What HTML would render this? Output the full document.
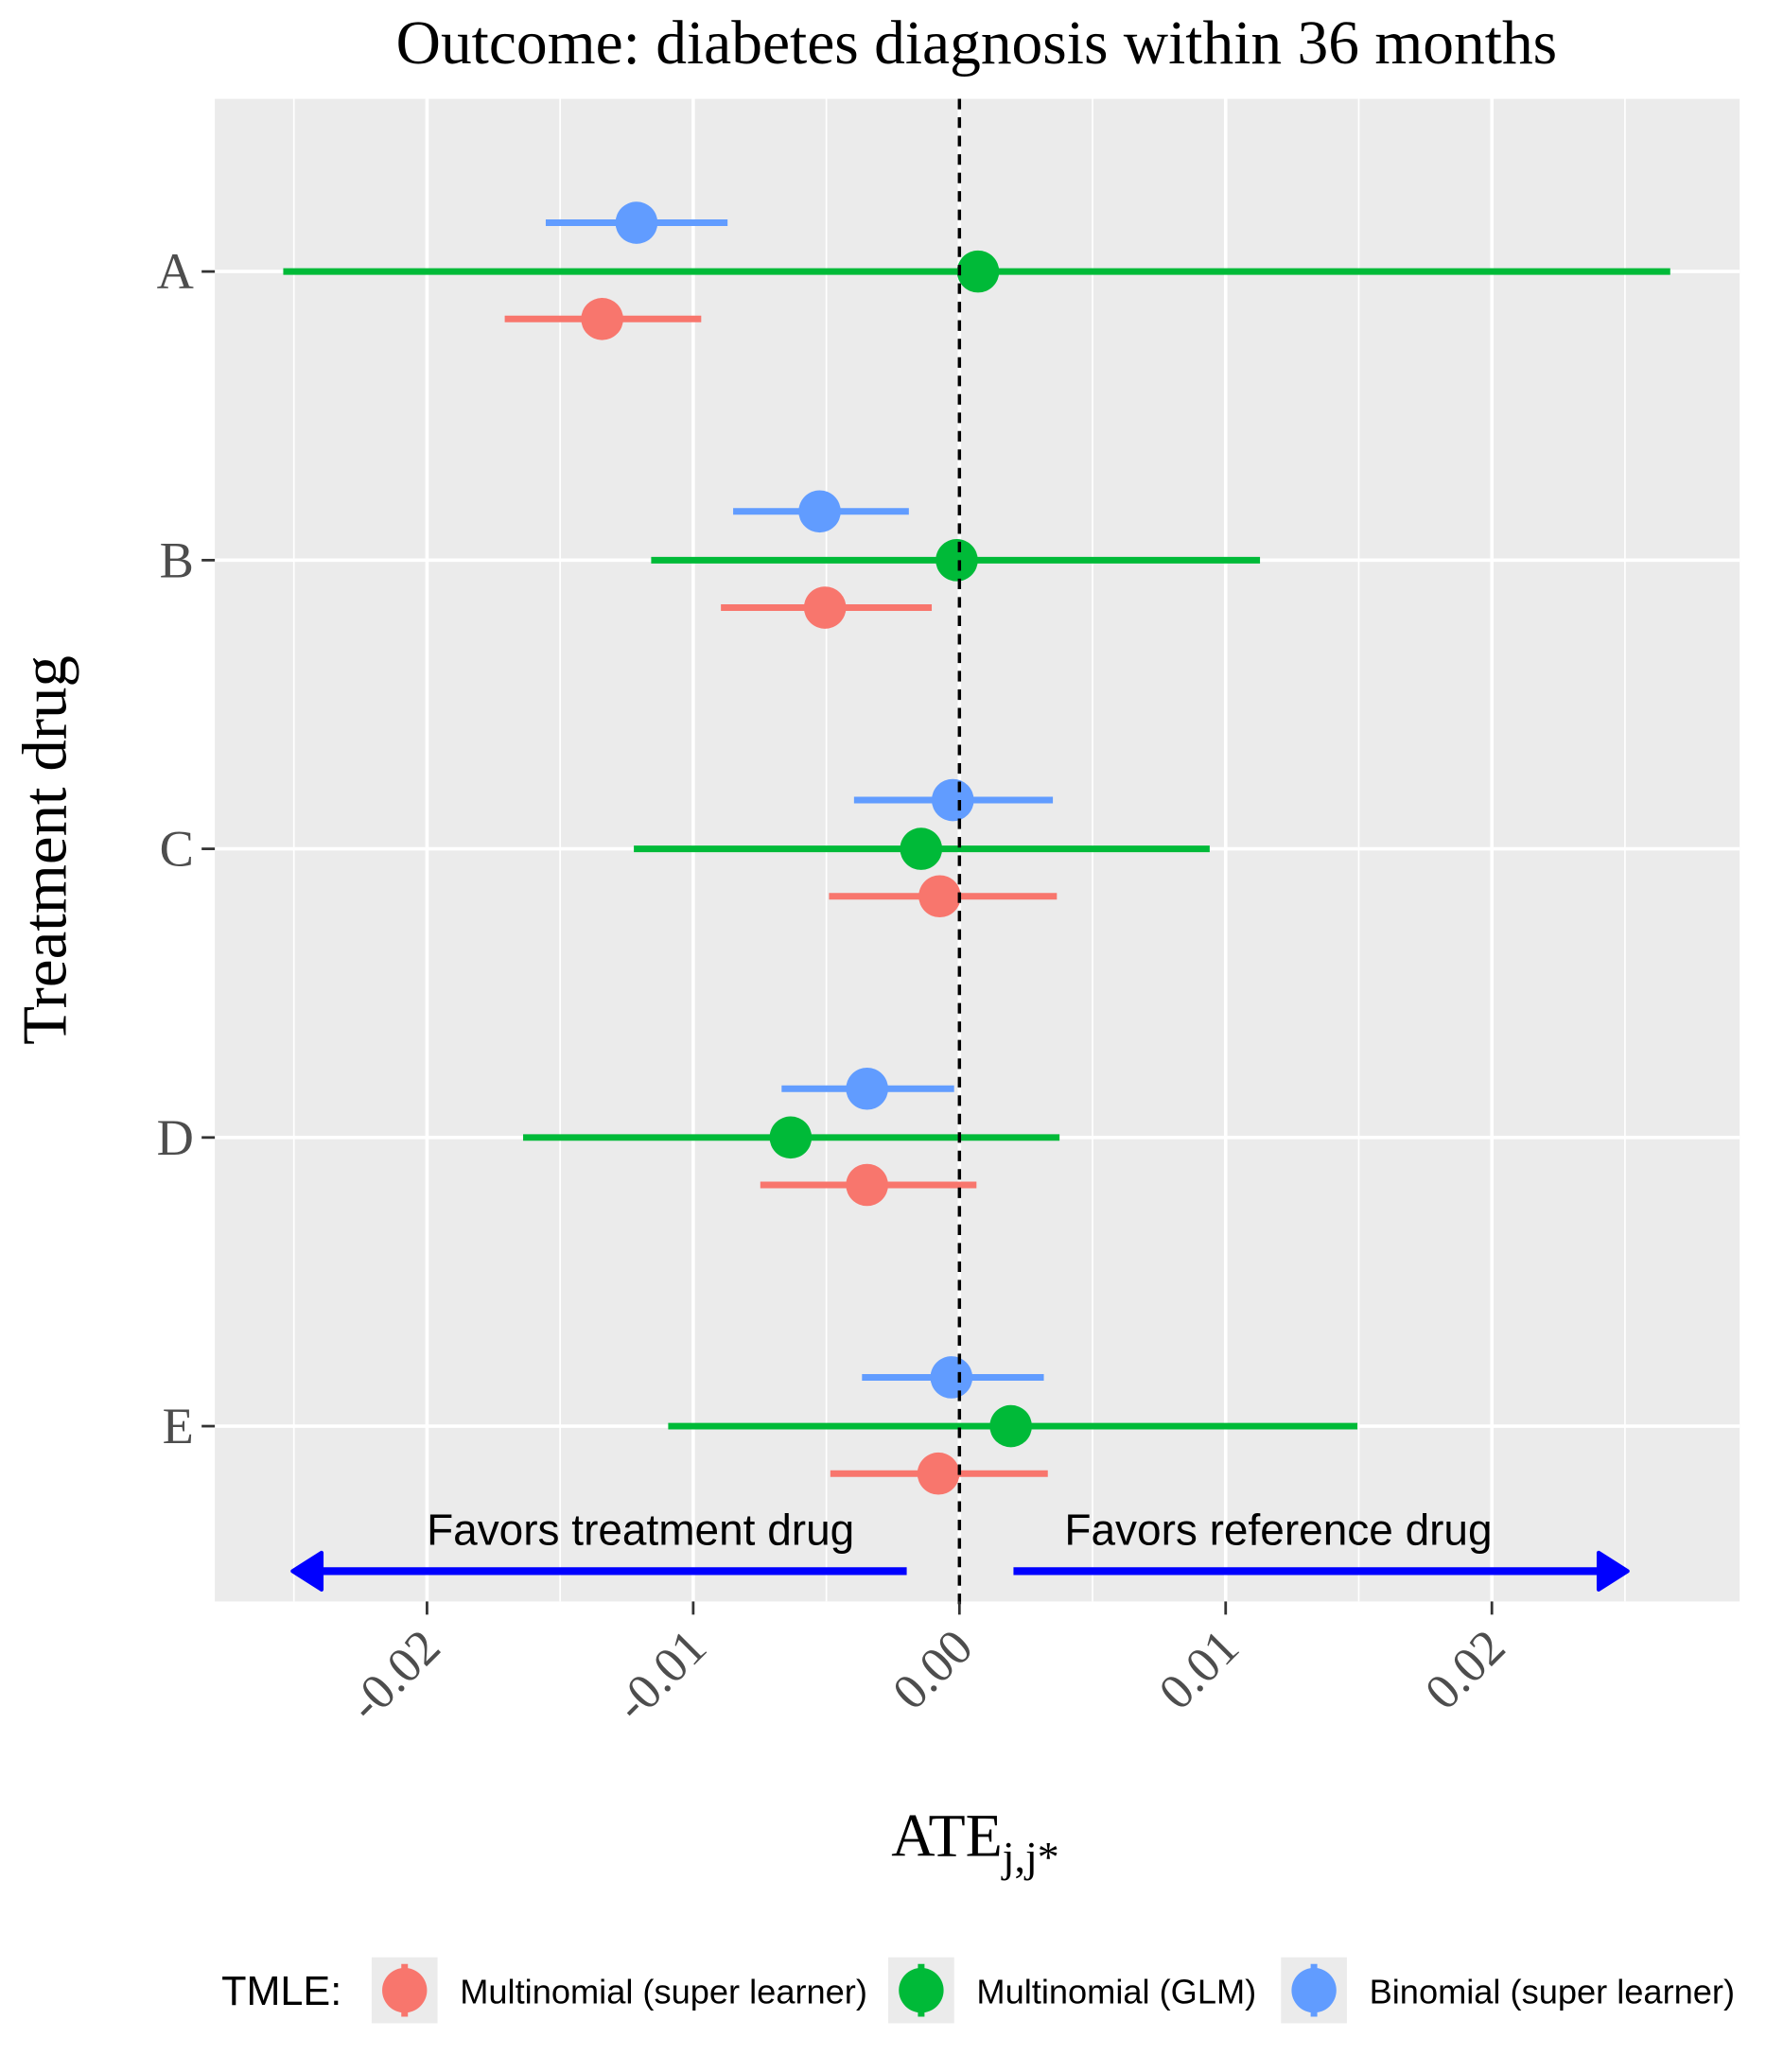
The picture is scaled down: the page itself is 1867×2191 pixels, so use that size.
<!DOCTYPE html>
<html><head><meta charset="utf-8"><style>
html,body{margin:0;padding:0;background:#fff}
svg{display:block}
.serif{font-family:"Liberation Serif",serif}
.sans{font-family:"Liberation Sans",sans-serif}
</style></head><body>
<svg id="chart" width="1867" height="2191" viewBox="0 0 1340 1572" preserveAspectRatio="none" xmlns="http://www.w3.org/2000/svg">
<rect width="1340" height="1572" fill="#fff"/>
<text class="serif" x="741" y="48" font-size="47" text-anchor="middle" fill="#000">Outcome: diabetes diagnosis within 36 months</text>
<rect x="163" y="75" width="1157" height="1140" fill="#ebebeb"/>
<g id="grid"></g>
<g id="marks"></g>
<line x1="728" y1="75" x2="728" y2="1222" stroke="#000" stroke-width="2.5" stroke-dasharray="8,6"/>
<g>
<text class="sans" x="486" y="1172" font-size="33" text-anchor="middle" fill="#000">Favors treatment drug</text>
<text class="sans" x="970" y="1172" font-size="33" text-anchor="middle" fill="#000">Favors reference drug</text>
<line x1="688" y1="1192" x2="238" y2="1192" stroke="#0000ff" stroke-width="6"/>
<polygon points="222,1192 244,1178 244,1206" fill="#0000ff" stroke="#0000ff" stroke-width="3" stroke-linejoin="round"/>
<line x1="769" y1="1192" x2="1219" y2="1192" stroke="#0000ff" stroke-width="6"/>
<polygon points="1235,1192 1213,1178 1213,1206" fill="#0000ff" stroke="#0000ff" stroke-width="3" stroke-linejoin="round"/>
</g>
<g id="axes"></g>
<text class="serif" x="740" y="1408" font-size="46" text-anchor="middle" fill="#000">ATE<tspan font-size="33" dy="12">j,j*</tspan></text>
<text class="serif" font-size="48" text-anchor="middle" fill="#000" transform="translate(50,645) rotate(-90)">Treatment drug</text>
<g>
<text class="sans" x="168" y="1521" font-size="31" fill="#000">TMLE:</text>
<g id="legend-keys"></g>
</g>
</svg>
<script>
const categories = ["A","B","C","D","E"];
const seriesNames = ["Multinomial (super learner)","Multinomial (GLM)","Binomial (super learner)"];
const redEst  = [-0.01342,-0.00505,-0.00074,-0.00347,-0.00079];
const redLo   = [-0.01708,-0.00896,-0.00490,-0.00748,-0.00485];
const redHi   = [-0.00970,-0.00104, 0.00366, 0.00064, 0.00332];
const greenEst= [ 0.00070,-0.00010,-0.00144,-0.00634, 0.00193];
const greenLo = [-0.02540,-0.01158,-0.01223,-0.01639,-0.01094];
const greenHi = [ 0.02670, 0.01129, 0.00940, 0.00376, 0.01495];
const blueEst = [-0.01213,-0.00525,-0.00025,-0.00347,-0.00030];
const blueLo  = [-0.01554,-0.00850,-0.00396,-0.00668,-0.00366];
const blueHi  = [-0.00871,-0.00190, 0.00351,-0.00020, 0.00317];
const xTicks = [-0.02,-0.01,0.00,0.01,0.02];
const xTickLabels = ["-0.02","-0.01","0.00","0.01","0.02"];

const NS="http://www.w3.org/2000/svg";
const X0=728, XPX=20200;
function xs(v){return X0+v*XPX;}
function ys(i){return 206+i*219;}
function mk(tag,attrs,parent){const e=document.createElementNS(NS,tag);for(const k in attrs)e.setAttribute(k,attrs[k]);parent.appendChild(e);return e;}

const grid=document.getElementById('grid');
for(let v=-0.025;v<=0.0301;v+=0.005){
  const x=xs(v); if(x<163||x>1320)continue;
  const major=Math.abs(Math.round(v*200))%2===0;
  const l=mk('line',{x1:x,y1:75,x2:x,y2:1215,stroke:'#fff','stroke-width':major?2.6:1.2},grid);
  
  
}
categories.forEach((c,i)=>{
  const l=mk('line',{x1:163,y1:ys(i),x2:1320,y2:ys(i),stroke:'#fff','stroke-width':2.6},grid);
  
  
});

const marks=document.getElementById('marks');
const series=[
  {est:blueEst,lo:blueLo,hi:blueHi,color:'#619CFF',off:-37,key:'binomial-sl'},
  {est:greenEst,lo:greenLo,hi:greenHi,color:'#00BA38',off:0,key:'multinomial-glm'},
  {est:redEst,lo:redLo,hi:redHi,color:'#F8766D',off:36,key:'multinomial-sl'}
];
series.forEach(s=>{
  categories.forEach((c,i)=>{
    const y=ys(i)+s.off;
    const l=mk('line',{x1:xs(s.lo[i]),y1:y,x2:xs(s.hi[i]),y2:y,stroke:s.color,'stroke-width':5},marks);
    
    
    const p=mk('circle',{cx:xs(s.est[i]),cy:y,r:16,fill:s.color},marks);
    
    
  });
});

const axes=document.getElementById('axes');
categories.forEach((c,i)=>{
  const t=mk('line',{x1:153,y1:ys(i),x2:163,y2:ys(i),stroke:'#333','stroke-width':2},axes);
  
  
  const tx=mk('text',{x:147,y:ys(i)+13,'font-size':39,'text-anchor':'end',fill:'#4d4d4d',class:'serif'},axes);
  tx.textContent=c;
  
  
});
xTicks.forEach((v,i)=>{
  const x=xs(v);
  const t=mk('line',{x1:x,y1:1215,x2:x,y2:1225,stroke:'#333','stroke-width':2},axes);
  
  
  const tx=mk('text',{'font-size':38,'text-anchor':'end',fill:'#4d4d4d',class:'serif',transform:'translate('+(x+12)+',1252) rotate(-45)'},axes);
  tx.textContent=xTickLabels[i];
  
  
});

const lk=document.getElementById('legend-keys');
const legendItems=[
  {name:seriesNames[0],color:'#F8766D',bx:282},
  {name:seriesNames[1],color:'#00BA38',bx:674},
  {name:seriesNames[2],color:'#619CFF',bx:972}
];
legendItems.forEach(it=>{
  const g=mk('g',{},lk);
  
  
  const r=mk('rect',{x:it.bx,y:1485,width:50,height:50,fill:'#ebebeb'},g);
  
  
  const ln=mk('line',{x1:it.bx+25,y1:1490,x2:it.bx+25,y2:1530,stroke:it.color,'stroke-width':5},g);
  
  
  const c=mk('circle',{cx:it.bx+25,cy:1510,r:17,fill:it.color},g);
  
  
  const t=mk('text',{x:it.bx+67,y:1520,'font-size':26,fill:'#000',class:'sans'},g);
  t.textContent=it.name;
  
  
});
</script>
</body></html>
